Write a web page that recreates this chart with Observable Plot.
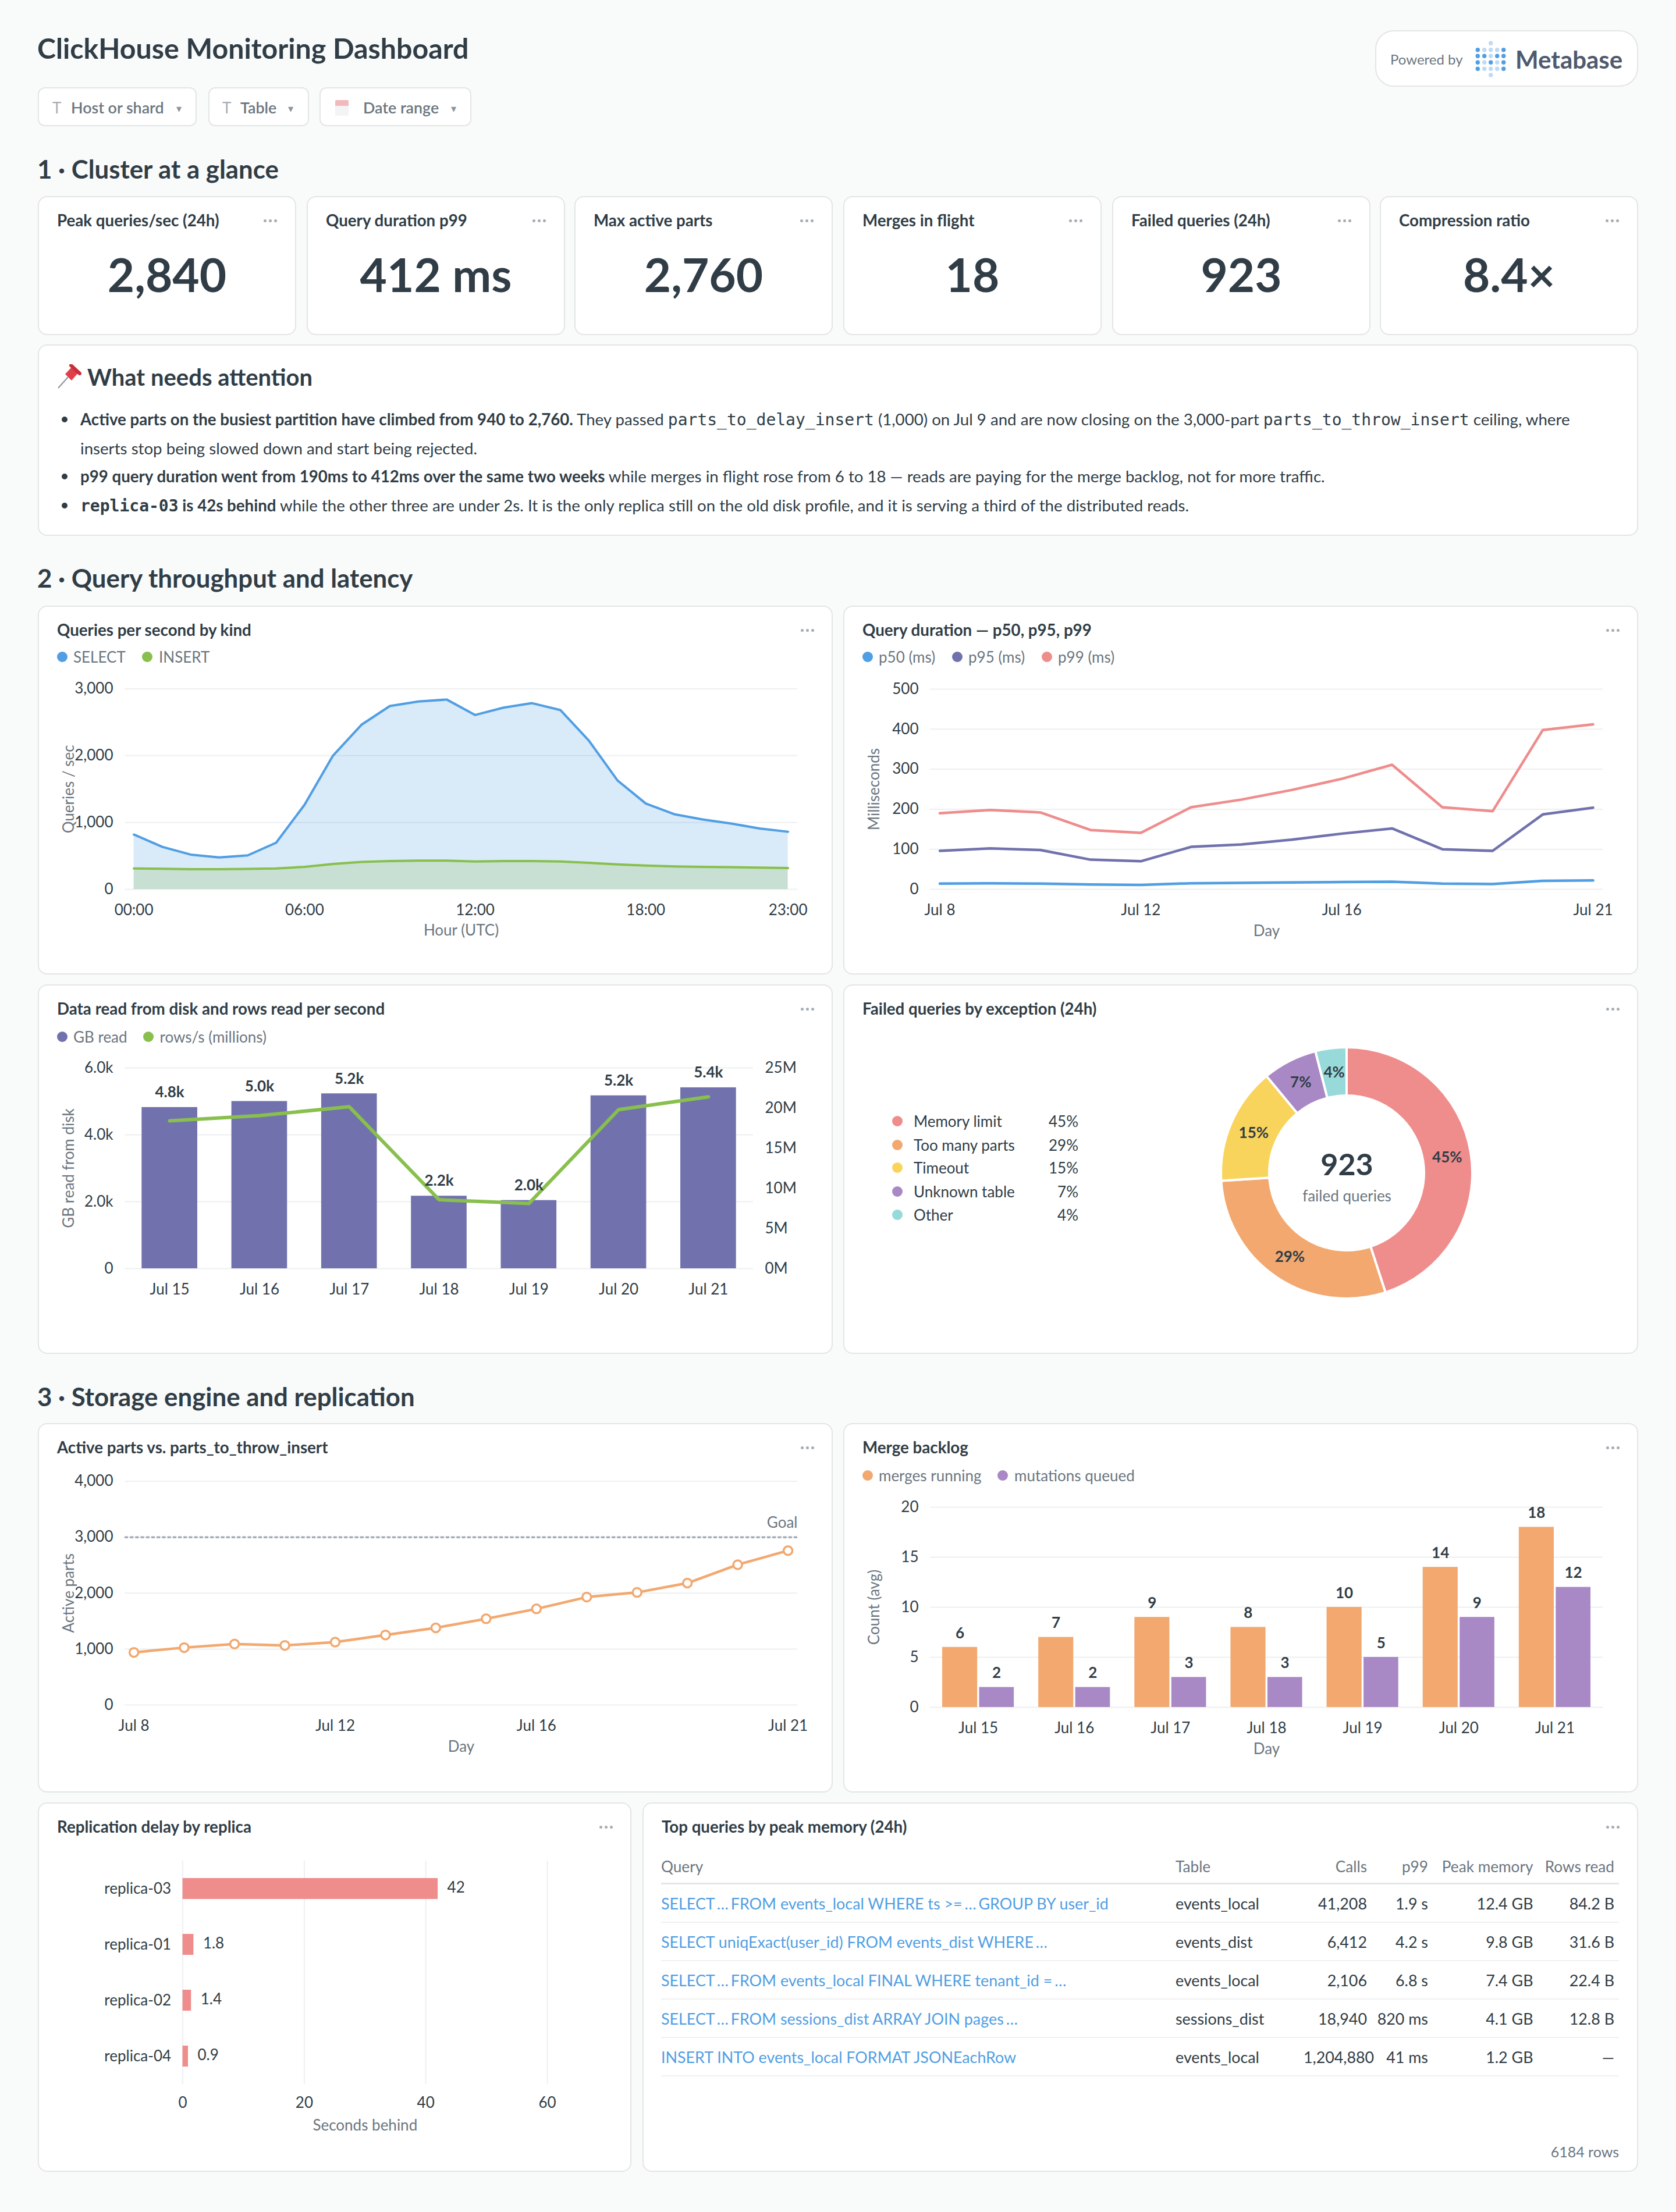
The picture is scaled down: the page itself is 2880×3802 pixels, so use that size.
<!DOCTYPE html>
<html>
<head>
<meta charset="utf-8">
<script src="https://cdn.jsdelivr.net/npm/d3@7"></script>
<script src="https://cdn.jsdelivr.net/npm/@observablehq/plot@0.6"></script>
<style>
html,body{margin:0;padding:0;background:#F9FAFA;}
#root{position:relative;width:2880px;height:3802px;background:#F9FAFA;font-family:Lato,sans-serif;color:#303D46;overflow:hidden;}
.card{position:absolute;box-sizing:border-box;background:#fff;border:2px solid #E3E5E6;border-radius:16px;}
.t{position:absolute;white-space:nowrap;line-height:1;}
.plot{position:absolute;}
code{font-family:"DejaVu Sans Mono",monospace;font-size:28px;}
table{position:absolute;border-collapse:collapse;table-layout:fixed;font-size:26.85px;}
th{font-weight:400;font-size:26.2px;color:#6B7680;height:56px;border-bottom:3px solid #E3E5E6;padding:0 8px 0 0;}
td{height:64px;border-bottom:2px solid #EFF0F1;padding:0 8px 0 0;}
.ell{letter-spacing:-3px;margin-left:-3px;}
</style>
</head>
<body>
<div id="root"></div>
<script>
// ---------- data ----------
const hours = d3.range(24);
const selectQps = [819,635,519,477,507,697,1265,2000,2462,2743,2811,2840,2609,2719,2786,2682,2224,1631,1283,1124,1045,984,910,861];
const insertQps = [312,306,300,300,305,312,336,379,409,422,428,428,415,422,422,415,397,373,354,342,336,330,324,318];

const durationDays = [8,9,10,11,12,13,14,15,16,17,18,19,20,21];
const p50 = [14,15,14,12,11,15,16,17,18,19,14,13,21,22];
const p95 = [96,102,98,74,70,106,112,124,139,152,100,96,187,204];
const p99 = [190,198,192,148,141,205,224,248,276,311,205,195,398,412];

const recentDays = ["Jul 15","Jul 16","Jul 17","Jul 18","Jul 19","Jul 20","Jul 21"];
const gbRead = [4820,5000,5230,2170,2040,5170,5410];
const rowsReadM = [18.4,19.06,20.16,8.58,8.11,19.8,21.4];

const exceptions = ["Memory limit","Too many parts","Timeout","Unknown table","Other"];
const exceptionShare = [45,29,15,7,4];
const exceptionColors = ["#EF8C8C","#F2A86F","#F9D45C","#A989C5","#98D9D9"];

const activeParts = [940,1026,1090,1065,1124,1252,1379,1541,1718,1929,2012,2179,2508,2760];

const mergesRunning = [6,7,9,8,10,14,18];
const mutationsQueued = [2,2,3,3,5,9,12];

const replicas = ["replica-03","replica-01","replica-02","replica-04"];
const replicaDelay = [42,1.8,1.4,0.9];

const tblQuery = ["SELECT … FROM events_local WHERE ts >= … GROUP BY user_id","SELECT uniqExact(user_id) FROM events_dist WHERE …","SELECT … FROM events_local FINAL WHERE tenant_id = …","SELECT … FROM sessions_dist ARRAY JOIN pages …","INSERT INTO events_local FORMAT JSONEachRow"];
const tblTable = ["events_local","events_dist","events_local","sessions_dist","events_local"];
const tblCalls = ["41,208","6,412","2,106","18,940","1,204,880"];
const tblP99 = ["1.9 s","4.2 s","6.8 s","820 ms","41 ms"];
const tblPeak = ["12.4 GB","9.8 GB","7.4 GB","4.1 GB","1.2 GB"];
const tblRows = ["84.2 B","31.6 B","22.4 B","12.8 B","—"];

const kpiTitles = ["Peak queries/sec (24h)","Query duration p99","Max active parts","Merges in flight","Failed queries (24h)","Compression ratio"];
const kpiValues = ["2,840","412 ms","2,760","18","923","8.4×"];

// ---------- palette ----------
const BLUE="#509EE3",GREEN="#88BF4D",INDIGO="#7172AD",PINK="#EF8C8C",ORANGE="#F2A86F",PURPLE="#A989C5";
const DARK="#303D46",GRAY="#6B7680",GRID="#EEEFF0";

// ---------- html helpers ----------
const root=document.getElementById("root");
function el(cls,css,html){const e=document.createElement("div");e.className=cls;e.style.cssText=css;if(html!=null)e.innerHTML=html;root.appendChild(e);return e;}
function T(html,x,y,size,o={}){
  const tx=o.align==="right"?"-100%":o.align==="center"?"-50%":"0";
  return el("t",`left:${x}px;top:${y}px;font-size:${size}px;font-weight:${o.w||400};color:${o.c||DARK};transform:translate(${tx},-50%);${o.css||""}`,html);
}
function card(x,y,w,h){return el("card",`left:${x}px;top:${y}px;width:${w}px;height:${h}px;`);}
function dots(x,y){[-9,0,9].forEach(d=>el("",`position:absolute;left:${x+d-2.5}px;top:${y-2.5}px;width:5px;height:5px;border-radius:50%;background:#A5ADB4;`));}
function legend(items,y){items.forEach(([label,color,dx,tx])=>{
  el("",`position:absolute;left:${dx}px;top:${y-9}px;width:18px;height:18px;border-radius:50%;background:${color};`);
  T(label,tx,y,26,{c:GRAY});
});}
function panel(x,y,w,h,title){card(x,y,w,h);T(title,x+33,y+42,27.7,{w:700});dots(x+w-44,y+42);}
function place(svg,left,top){svg.classList.add("plot");svg.style.left=left+"px";svg.style.top=top+"px";root.appendChild(svg);}

// ---------- page chrome ----------
T("ClickHouse Monitoring Dashboard",64,82,48.3,{w:700});

[[65,273,"Host or shard",122,90,307],[358,173,"Table",413,382,499],[549,261,"Date range",624,null,779]].forEach(([x,w,label,tx,ix,cx])=>{
  el("card",`left:${x}px;top:150px;width:${w}px;height:67px;border-radius:12px;`);
  T(label,tx,185,26.8,{w:600,c:"#6B7680"});
  if(ix!=null)T("T",ix,185,26,{c:"#A5ADB4"});
  T("▾",cx,186,18,{align:"center",c:"#8A949C"});
});
el("",`position:absolute;left:576px;top:172px;width:23px;height:27px;background:linear-gradient(#F1B9BB 0 10px,#F4F4F6 10px);border-radius:2px;`);

el("card",`left:2363px;top:52px;width:452px;height:97px;border-radius:32px;`);
T("Powered by",2389,102,24,{c:"#6B7680"});
T("Metabase",2604,102,42,{w:700,c:"#505A6E"});
const logoSvg=d3.create("svg").attr("width",60).attr("height",70).style("position","absolute").style("left","2532px").style("top","68px");
const logoX=[7.3,18.7,29.7,40.7,51.7],logoY=[17.7,28.3,39.3,50.3];
const logoBlue=[[1,0,0,0,1],[1,1,0,1,1],[1,0,1,0,1],[1,0,0,0,1]];
logoBlue.forEach((r,i)=>r.forEach((b,j)=>logoSvg.append("circle").attr("cx",logoX[j]).attr("cy",logoY[i]).attr("r",3.7).attr("fill",b?BLUE:"#BFDAF3")));
[6.3,61].forEach(y=>logoSvg.append("circle").attr("cx",logoX[2]).attr("cy",y).attr("r",3.7).attr("fill","#BFDAF3"));
root.appendChild(logoSvg.node());

T("1 · Cluster at a glance",64,291,43.8,{w:700});
T("2 · Query throughput and latency",64,994,43.8,{w:700});
T("3 · Storage engine and replication",64,2401,43.8,{w:700});

// ---------- KPI cards ----------
const kpiX=[65,527,987,1449,1911,2371];
kpiTitles.forEach((title,i)=>{
  const x=kpiX[i];
  card(x,337,444,239);
  T(title,x+33,379,27.7,{w:700});
  dots(x+399,379);
  T(kpiValues[i],x+222,471,80,{w:700,align:"center"});
});

// ---------- attention card ----------
card(65,592,2750,329);
el("",`position:absolute;left:98px;top:626px;`,`<svg width="42" height="42" viewBox="0 0 42 42"><line x1="2" y1="41" x2="19" y2="22" stroke="#8A949C" stroke-width="2"/><path d="M14 17 L26 4 L37 14 L25 28 Z" fill="#E0404A"/><path d="M24 2 L39 16" stroke="#C7303A" stroke-width="6" stroke-linecap="round"/></svg>`);
T("What needs attention",150,648,40,{w:700});
[[720.5,`<b>Active parts on the busiest partition have climbed from 940 to 2,760.</b> They passed <code>parts_to_delay_insert</code> (1,000) on Jul 9 and are now closing on the 3,000-part <code>parts_to_throw_insert</code> ceiling, where`,true],
 [771,`inserts stop being slowed down and start being rejected.`,false],
 [819,`<b>p99 query duration went from 190ms to 412ms over the same two weeks</b> while merges in flight rose from 6 to 18 — reads are paying for the merge backlog, not for more traffic.`,true],
 [868.5,`<b><code style="font-weight:700">replica-03</code> is 42s behind</b> while the other three are under 2s. It is the only replica still on the old disk profile, and it is serving a third of the distributed reads.`,true]
].forEach(([y,html,bullet])=>{
  T(html,138,y,27.65);
  if(bullet)el("",`position:absolute;left:106px;top:${y-5}px;width:10px;height:10px;border-radius:50%;background:${DARK};`);
});

// ---------- chart helpers ----------
const fmt=d3.format(",");
const baseStyle={fontFamily:"Lato, sans-serif",fontSize:"26px",color:DARK,background:"transparent",overflow:"visible"};
const axY=(o={})=>Plot.axisY({tickSize:0,tickPadding:20,label:null,fontSize:26,...o});
const axX=(o={})=>Plot.axisX({tickSize:0,tickPadding:26,label:null,fontSize:26,...o});
const yTitle=(s,dx)=>Plot.text([s],{frameAnchor:"left",dx,rotate:-90,lineAnchor:"middle",textAnchor:"middle",fill:GRAY,fontSize:26});
const xTitle=(s,dy)=>Plot.text([s],{frameAnchor:"bottom",dy,lineAnchor:"middle",fill:GRAY,fontSize:26});
const julFmt=d=>`Jul ${d}`;

// ---------- Queries per second ----------
panel(65,1041,1366,634,"Queries per second by kind");
legend([["SELECT",BLUE,98,126],["INSERT",GREEN,244,273]],1129);
const qpsData=hours.map((h,i)=>({h,sel:selectQps[i],ins:insertQps[i]}));
place(Plot.plot({
  width:1366,height:490,marginLeft:149,marginRight:61,marginTop:33.5,marginBottom:112,style:baseStyle,
  x:{domain:[0,23],insetLeft:15.6,insetRight:16.4},
  y:{domain:[0,3000]},
  marks:[
    Plot.ruleY([0,1000,2000,3000],{stroke:GRID,strokeWidth:2}),
    Plot.areaY(qpsData,{x:"h",y:"sel",fill:BLUE,fillOpacity:.22}),
    Plot.areaY(qpsData,{x:"h",y:"ins",fill:GREEN,fillOpacity:.22}),
    Plot.lineY(qpsData,{x:"h",y:"sel",stroke:BLUE,strokeWidth:4}),
    Plot.lineY(qpsData,{x:"h",y:"ins",stroke:GREEN,strokeWidth:4}),
    axY({ticks:[0,1000,2000,3000],tickFormat:fmt}),
    axX({ticks:[0,6,12,18,23],tickFormat:h=>String(h).padStart(2,"0")+":00"}),
    yTitle("Queries / sec",-96),
    xTitle("Hour (UTC)",71)
  ]
}),65,1150);

// ---------- Query duration ----------
panel(1449,1041,1366,634,"Query duration — p50, p95, p99");
legend([["p50 (ms)",BLUE,1482,1510],["p95 (ms)",INDIGO,1636,1664],["p99 (ms)",PINK,1790,1818]],1129);
const durData=durationDays.map((d,i)=>({d,p50:p50[i],p95:p95[i],p99:p99[i]}));
place(Plot.plot({
  width:1366,height:490,marginLeft:149,marginRight:61,marginTop:34,marginBottom:112,style:baseStyle,
  x:{domain:[8,21],insetLeft:16.5,insetRight:17},
  y:{domain:[0,500]},
  marks:[
    Plot.ruleY([0,100,200,300,400,500],{stroke:GRID,strokeWidth:2}),
    Plot.lineY(durData,{x:"d",y:"p50",stroke:BLUE,strokeWidth:4.5}),
    Plot.lineY(durData,{x:"d",y:"p95",stroke:INDIGO,strokeWidth:4.5}),
    Plot.lineY(durData,{x:"d",y:"p99",stroke:PINK,strokeWidth:4.5}),
    axY({ticks:[0,100,200,300,400,500]}),
    axX({ticks:[8,12,16,21],tickFormat:julFmt}),
    yTitle("Milliseconds",-96),
    xTitle("Day",72)
  ]
}),1449,1150);

// ---------- Data read ----------
panel(65,1692,1366,635,"Data read from disk and rows read per second");
legend([["GB read",INDIGO,98,126],["rows/s (millions)",GREEN,246,274.5]],1782);
const readData=recentDays.map((d,i)=>({d,gb:gbRead[i],rows:rowsReadM[i]}));
const gbPerM=6000/25; // right axis shares the plot height
place(Plot.plot({
  width:1366,height:480,marginLeft:149,marginRight:137,marginTop:35,marginBottom:100,style:baseStyle,
  x:{type:"band",domain:recentDays,paddingInner:.38,paddingOuter:.19,round:false},
  y:{domain:[0,6000]},
  marks:[
    Plot.ruleY([0,2000,4000,6000],{stroke:GRID,strokeWidth:2}),
    Plot.barY(readData,{x:"d",y:"gb",fill:INDIGO}),
    Plot.line(readData,{x:"d",y:d=>d.rows*gbPerM,stroke:GREEN,strokeWidth:6}),
    Plot.text(readData,{x:"d",y:"gb",text:d=>(d.gb/1000).toFixed(1)+"k",dy:-25.6,lineAnchor:"middle",fontWeight:700,fontSize:26,fill:DARK}),
    axY({ticks:[0,2000,4000,6000],tickFormat:v=>v===0?"0":(v/1000).toFixed(1)+"k"}),
    axY({anchor:"right",ticks:[0,5,10,15,20,25].map(v=>v*gbPerM),tickFormat:v=>`${Math.round(v/gbPerM)}M`}),
    axX({}),
    yTitle("GB read from disk",-96)
  ]
}),65,1800);

// ---------- Failed queries donut ----------
panel(1449,1692,1366,635,"Failed queries by exception (24h)");
exceptions.forEach((name,i)=>{
  const y=[1927,1967.5,2007,2048,2088][i];
  el("",`position:absolute;left:1533px;top:${y-9}px;width:18px;height:18px;border-radius:50%;background:${exceptionColors[i]};`);
  T(name,1570,y,26);
  T(exceptionShare[i]+"%",1853,y,26,{align:"right"});
});
const arcs=d3.pie().sort(null).value(d=>d)(exceptionShare);
const sliceData=exceptions.map((name,i)=>({name,share:exceptionShare[i],arc:arcs[i],mid:(arcs[i].startAngle+arcs[i].endAngle)/2}));
const INNER=133/216,LABEL_R=174.5/216;
place(Plot.plot({
  width:432,height:432,margin:0,style:baseStyle,
  x:{domain:[-1,1],axis:null},y:{domain:[-1,1],axis:null},
  color:{domain:exceptions,range:exceptionColors},
  marks:[
    Plot.dot(sliceData,{x:()=>0,y:()=>0,fill:"name",render(index,scales,values){
      const R=scales.x(1)-scales.x(0),cx=scales.x(0),cy=scales.y(0);
      const arc=d3.arc().outerRadius(R).innerRadius(R*INNER);
      const g=d3.create("svg:g");
      for(const i of index){
        g.append("path").attr("transform",`translate(${cx},${cy})`).attr("d",arc(sliceData[i].arc))
          .attr("fill",values.fill[i]).attr("stroke","#fff").attr("stroke-width",4);
      }
      return g.node();
    }}),
    Plot.text(sliceData,{x:d=>LABEL_R*Math.sin(d.mid),y:d=>LABEL_R*Math.cos(d.mid),text:d=>d.share+"%",fontWeight:700,fontSize:26,fill:DARK}),
    Plot.text(["923"],{x:()=>0,y:()=>0,dy:-13,fontWeight:700,fontSize:52,fill:DARK}),
    Plot.text(["failed queries"],{x:()=>0,y:()=>0,dy:40,fontSize:26,fill:GRAY})
  ]
}),2098,1800);

// ---------- Active parts ----------
panel(65,2446,1366,635,"Active parts vs. parts_to_throw_insert");
const partsData=durationDays.map((d,i)=>({d,v:activeParts[i]}));
place(Plot.plot({
  width:1366,height:500,marginLeft:149,marginRight:61,marginTop:45.5,marginBottom:70,style:baseStyle,
  x:{domain:[8,21],insetLeft:15.6,insetRight:16.4},
  y:{domain:[0,4000]},
  marks:[
    Plot.ruleY([0,1000,2000,3000,4000],{stroke:GRID,strokeWidth:2}),
    Plot.ruleY([3000],{stroke:"#A6ABBB",strokeWidth:3.5,strokeDasharray:"6 3.2"}),
    Plot.lineY(partsData,{x:"d",y:"v",stroke:ORANGE,strokeWidth:4.5}),
    Plot.dot(partsData,{x:"d",y:"v",r:7.5,fill:"#fff",stroke:ORANGE,strokeWidth:3.5}),
    Plot.text(["Goal"],{y:()=>3000,frameAnchor:"right",textAnchor:"end",dy:-24.7,lineAnchor:"middle",fill:GRAY,fontSize:26}),
    axY({ticks:[0,1000,2000,3000,4000],tickFormat:fmt}),
    axX({ticks:[8,12,16,21],tickFormat:julFmt}),
    yTitle("Active parts",-96),
    xTitle("Day",72)
  ]
}),65,2500);

// ---------- Merge backlog ----------
panel(1449,2446,1366,635,"Merge backlog");
legend([["merges running",ORANGE,1482,1510],["mutations queued",PURPLE,1714,1743]],2535.5);
const mergeData=recentDays.map((d,i)=>({d,m:mergesRunning[i],q:mutationsQueued[i]}));
place(Plot.plot({
  width:1366,height:464,marginLeft:149,marginRight:61,marginTop:30,marginBottom:90,style:baseStyle,
  x:{type:"band",domain:recentDays,padding:0,round:false},
  y:{domain:[0,20]},
  marks:[
    Plot.ruleY([0,5,10,15,20],{stroke:GRID,strokeWidth:2}),
    Plot.barY(mergeData,{x:"d",y:"m",fill:ORANGE,insetLeft:21,insetRight:84}),
    Plot.barY(mergeData,{x:"d",y:"q",fill:PURPLE,insetLeft:84.5,insetRight:21}),
    Plot.text(mergeData,{x:"d",y:"m",text:"m",dx:-31.6,dy:-24,lineAnchor:"middle",fontWeight:700,fontSize:26,fill:DARK}),
    Plot.text(mergeData,{x:"d",y:"q",text:"q",dx:31.6,dy:-24,lineAnchor:"middle",fontWeight:700,fontSize:26,fill:DARK}),
    axY({ticks:[0,5,10,15,20]}),
    axX({}),
    yTitle("Count (avg)",-96),
    xTitle("Day",72)
  ]
}),1449,2560);

// ---------- Replication delay ----------
panel(65,3098,1020,635,"Replication delay by replica");
const replicaData=replicas.map((r,i)=>({r,v:replicaDelay[i]}));
place(Plot.plot({
  width:1020,height:520,marginLeft:248.6,marginRight:145,marginTop:48,marginBottom:88,style:baseStyle,
  x:{domain:[0,60]},
  y:{type:"band",domain:replicas,paddingInner:.625,paddingOuter:.3125,round:false},
  marks:[
    Plot.ruleX([0,20,40,60],{stroke:GRID,strokeWidth:2}),
    Plot.barX(replicaData,{x:"v",y:"r",fill:PINK}),
    Plot.text(replicaData,{x:"v",y:"r",text:"v",dx:16,dy:-2,textAnchor:"start",fontSize:26,fill:DARK}),
    axY({}),
    axX({ticks:[0,20,40,60],tickPadding:22}),
    xTitle("Seconds behind",71)
  ]
}),65,3150);

// ---------- Top queries table ----------
panel(1104,3098,1711,635,"Top queries by peak memory (24h)");
const cols=[["Query",884,"left"],["Table",220,"left"],["Calls",117,"right"],["p99",105,"right"],["Peak memory",180.5,"right"],["Rows read",139.5,"right"]];
const queryHtml=q=>q.replace(/…/g,'<span class="ell">…</span>');
const rowsHtml=tblQuery.map((q,i)=>`<tr><td style="color:${BLUE}">${queryHtml(q)}</td><td>${tblTable[i]}</td><td style="text-align:right">${tblCalls[i]}</td><td style="text-align:right">${tblP99[i]}</td><td style="text-align:right">${tblPeak[i]}</td><td style="text-align:right">${tblRows[i]}</td></tr>`).join("");
el("",`position:absolute;left:1136px;top:3180px;`,`<table style="position:static;width:1646px"><colgroup>${cols.map(c=>`<col style="width:${c[1]}px">`).join("")}</colgroup><thead><tr>${cols.map(c=>`<th style="text-align:${c[2]}">${c[0]}</th>`).join("")}</tr></thead><tbody>${rowsHtml}</tbody></table>`);
T("6184 rows",2782,3698,25,{align:"right",c:GRAY});
</script>
</body>
</html>
